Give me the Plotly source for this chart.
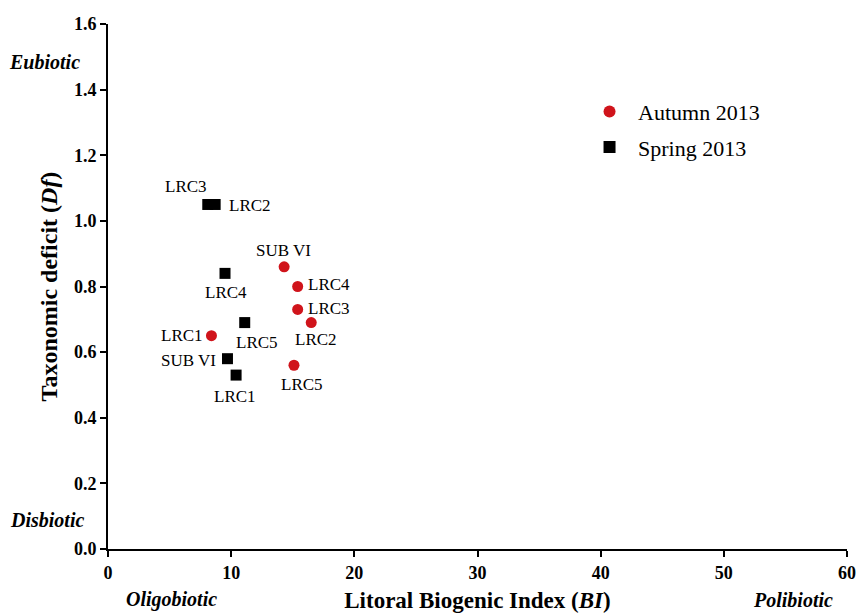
import plotly.graph_objects as go

# Autumn 2013 (red circles)
autumn_labels = ["SUB VI", "LRC4", "LRC3", "LRC2", "LRC1", "LRC5"]
autumn_bi = [14.3, 15.4, 15.4, 16.5, 8.4, 15.1]
autumn_df = [0.86, 0.80, 0.73, 0.69, 0.65, 0.56]

# Spring 2013 (black squares)
spring_labels = ["LRC3", "LRC2", "LRC4", "LRC5", "SUB VI", "LRC1"]
spring_bi = [8.1, 8.7, 9.5, 11.1, 9.7, 10.4]
spring_df = [1.05, 1.05, 0.84, 0.69, 0.58, 0.53]

x_ticks = [0, 10, 20, 30, 40, 50, 60]
y_ticks = [0.0, 0.2, 0.4, 0.6, 0.8, 1.0, 1.2, 1.4, 1.6]

# label offsets in pixels (style only)
autumn_off = [(-1, 16), (31, 2), (31, 1), (5, -17), (-29, 0), (8, -19)]
spring_off = [(-22, 18), (35, -1), (1, -19), (12, -20), (-39, -2), (-1, -21)]

serif = "Liberation Serif, Times New Roman, serif"

fig = go.Figure()
fig.add_trace(go.Scatter(
    x=autumn_bi, y=autumn_df, mode="markers", name="Autumn 2013", legendgroup="a",
    marker=dict(symbol="circle", size=11, color="#d0141b"),
))
fig.add_trace(go.Scatter(
    x=spring_bi, y=spring_df, mode="markers", name="Spring 2013", legendgroup="s",
    marker=dict(symbol="square", size=11, color="black"),
))

lab_font = dict(family=serif, size=17, color="black")
for xs, ys, labs, offs in [(autumn_bi, autumn_df, autumn_labels, autumn_off),
                           (spring_bi, spring_df, spring_labels, spring_off)]:
    for xv, yv, lab, (dx, dy) in zip(xs, ys, labs, offs):
        fig.add_annotation(x=xv, y=yv, xref="x", yref="y", text=lab, showarrow=False,
                           xshift=dx, yshift=dy, xanchor="center", yanchor="middle",
                           font=lab_font)

fig.update_layout(
    width=858, height=613,
    margin=dict(l=108, r=11, t=24, b=64),
    paper_bgcolor="white", plot_bgcolor="white",
    font=dict(family=serif, color="black"),
    legend=dict(x=0.6401, y=0.873, xanchor="left", yanchor="top",
                font=dict(family=serif, size=22, color="black"),
                bgcolor="rgba(0,0,0,0)", itemsizing="constant", tracegroupgap=4,
                itemwidth=47),
    xaxis=dict(range=[0, 60], tickvals=x_ticks, ticktext=[str(v) for v in x_ticks],
               automargin=False,
               showgrid=False, zeroline=False, showline=True, linecolor="black", linewidth=2,
               ticks="outside", ticklen=6, tickwidth=2, tickcolor="black",
               tickfont=dict(family=serif, size=18, color="black", weight="bold"),
               title=dict(text="<b>Litoral Biogenic Index (<i>BI</i>)</b>", standoff=12,
                          font=dict(family=serif, size=23, color="black"))),
    yaxis=dict(range=[0, 1.6], tickvals=y_ticks, ticktext=[f"{v:.1f}" for v in y_ticks],
               automargin=False,
               showgrid=False, zeroline=False, showline=True, linecolor="black", linewidth=2,
               ticks="outside", ticklen=6, tickwidth=2, tickcolor="black",
               tickfont=dict(family=serif, size=18, color="black", weight="bold"),
               title=dict(text="<b>Taxonomic deficit (<i>Df</i>)</b>", standoff=10,
                          font=dict(family=serif, size=24, color="black"))),
)

ann_font = dict(family=serif, size=20, color="black")
for xp, yp, txt in [(-0.0853, 0.9276, "Eubiotic"), (-0.0825, 0.0552, "Disbiotic"),
                    (0.0866, -0.0971, "Oligobiotic"), (0.927, -0.0971, "Polibiotic")]:
    fig.add_annotation(x=xp, y=yp, xref="paper", yref="paper", text=f"<b><i>{txt}</i></b>",
                       showarrow=False, xanchor="center", yanchor="middle", font=ann_font)

fig.write_html("out.html", config={"displayModeBar": False},
               post_script="document.body.style.margin='0';document.body.style.overflow='hidden';")
